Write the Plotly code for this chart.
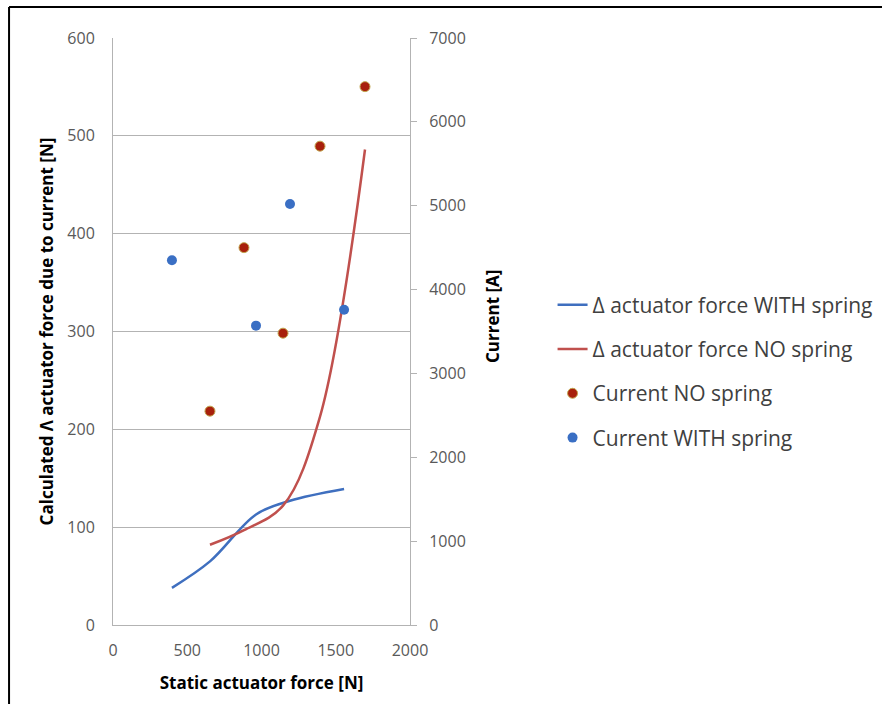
import plotly.graph_objects as go

# Calculated delta actuator force [N] versus static actuator force [N]
force_with_x = [397, 653, 963, 1192, 1556]
force_with_y = [38, 65, 113, 127, 139]
force_no_x = [653, 882, 1145, 1394, 1697]
force_no_y = [82, 97, 122, 213, 486]

# Measured current [A] versus static actuator force [N]
current_no_x = [653, 882, 1145, 1394, 1697]
current_no_y = [2550, 4500, 3480, 5710, 6420]
current_with_x = [397, 963, 1192, 1556]
current_with_y = [4350, 3570, 5020, 3760]

left_ticks = [0, 100, 200, 300, 400, 500, 600]
right_ticks = [0, 1000, 2000, 3000, 4000, 5000, 6000, 7000]
x_ticks = [0, 500, 1000, 1500, 2000]

FONT = "Open Sans"
BLUE = "#3f6fbf"
RED = "#c0504d"
GRID = "#b3b3b3"
TICKTXT = "#595959"

fig = go.Figure()

fig.add_trace(go.Scatter(
    x=force_with_x, y=force_with_y, mode="lines",
    name="Δ actuator force WITH spring", legendgroup="a",
    line=dict(color=BLUE, width=2.5, shape="spline"),
))
fig.add_trace(go.Scatter(
    x=force_no_x, y=force_no_y, mode="lines",
    name="Δ actuator force NO spring", legendgroup="b",
    line=dict(color=RED, width=2.5, shape="spline"),
))
fig.add_trace(go.Scatter(
    x=current_no_x, y=current_no_y, mode="markers", yaxis="y2",
    name="Current NO spring", legendgroup="c",
    marker=dict(color="#a8200c", size=10, line=dict(color="#c2a650", width=1)),
))
fig.add_trace(go.Scatter(
    x=current_with_x, y=current_with_y, mode="markers", yaxis="y2",
    name="Current WITH spring", legendgroup="d",
    marker=dict(color="#3a6fc4", size=10, line=dict(width=0)),
))

fig.update_layout(
    width=882, height=704,
    margin=dict(l=113, r=472, t=38, b=79, pad=0, autoexpand=False),
    paper_bgcolor="white", plot_bgcolor="white",
    font=dict(family=FONT, color=TICKTXT),
    showlegend=True,
    legend=dict(
        x=1.48, y=0.58, xanchor="left", yanchor="top",
        traceorder="grouped", tracegroupgap=14,
        font=dict(family=FONT, size=21, color="#404040"),
        bgcolor="rgba(0,0,0,0)",
    ),
    xaxis=dict(
        range=[0, 2000], tickvals=x_ticks, ticktext=[str(v) for v in x_ticks],
        showgrid=False, zeroline=False, showline=True, linecolor=GRID, linewidth=1,
        ticks="", ticklabelstandoff=11,
        tickfont=dict(family=FONT, size=16, color=TICKTXT),
        title=dict(text="<b>Static actuator force [N]</b>", standoff=16,
                   font=dict(family=FONT, size=17, color="#000000")),
    ),
    yaxis=dict(
        range=[0, 600], tickvals=left_ticks, ticktext=[str(v) for v in left_ticks],
        showgrid=True, gridcolor=GRID, gridwidth=1, zeroline=False,
        showline=True, linecolor=GRID, linewidth=1, ticks="", ticklabelstandoff=14,
        tickfont=dict(family=FONT, size=16, color=TICKTXT),
        title=dict(text="<b>Calculated Λ actuator force due to current [N]</b>", standoff=9,
                   font=dict(family=FONT, size=17, color="#000000")),
    ),
    yaxis2=dict(
        range=[0, 7000], tickvals=right_ticks, ticktext=[str(v) for v in right_ticks],
        overlaying="y", side="right", showgrid=False, zeroline=False,
        showline=True, linecolor=GRID, linewidth=1,
        ticks="outside", ticklen=6, tickcolor=GRID, ticklabelstandoff=9,
        tickfont=dict(family=FONT, size=16, color=TICKTXT),
    ),
    annotations=[
        dict(text="<b>Current [A]</b>", textangle=-90, showarrow=False,
             xref="paper", yref="paper", x=(492 - 113) / 297, y=(625 - 317) / 587,
             xanchor="center", yanchor="middle",
             font=dict(family=FONT, size=17, color="#000000")),
    ],
    shapes=[
        dict(type="line", xref="paper", yref="paper", x0=-0.350, x1=2.6,
             y0=1.0528, y1=1.0528, line=dict(color="#000000", width=2)),
        dict(type="line", xref="paper", yref="paper", x0=-0.350, x1=-0.350,
             y0=1.0528, y1=-0.14, line=dict(color="#000000", width=2)),
    ],
)

fig.write_html("out.html")
